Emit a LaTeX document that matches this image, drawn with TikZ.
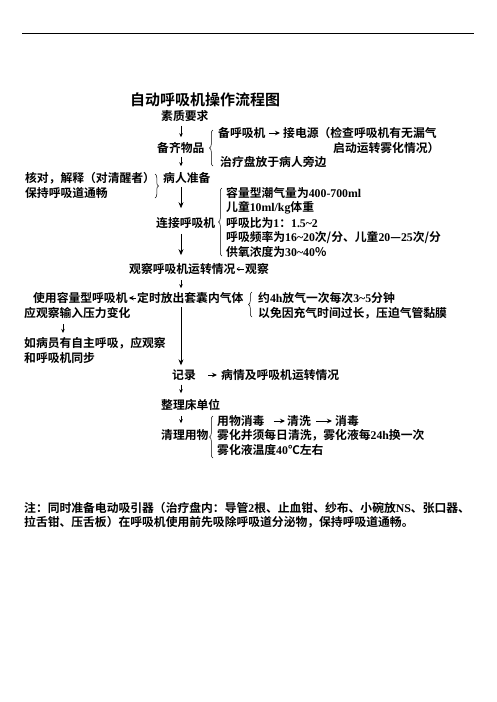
\documentclass[tikz,border=0pt]{standalone}
\usepackage{fontspec}
\usetikzlibrary{arrows.meta,decorations.pathreplacing,calc}
\newfontfamily\cjk{Noto Sans CJK SC Bold}
\newfontfamily\lat{Liberation Serif}[BoldFont={Liberation Serif Bold}]
\newcommand{\la}[1]{{\lat\bfseries #1}}
\begin{document}
\begin{tikzpicture}[x=1pt,y=-1pt,
  txt/.style={anchor=west,inner sep=0pt,font=\cjk\fontsize{11.8}{14}\selectfont},
  arr/.style={-{Stealth[length=6pt,width=5pt]},line width=0.8pt},
  sarr/.style={-{Stealth[length=4pt,width=3.5pt]},line width=0.6pt},
  harr/.style={-{Stealth[length=5pt,width=4.5pt]},line width=0.9pt},
  tarr/.style={-{To[length=3pt,width=4pt]},line width=0.5pt},
  brc/.style={decorate,decoration={brace,amplitude=3.5pt},line width=0.5pt}]
\useasboundingbox (0,0) rectangle (496,702);
\draw[line width=0.9pt] (22,33) -- (474,33);
\coordinate (ax) at (181,0);
\coordinate (bx) at (63,0);
% title
\node[txt,font=\cjk\fontsize{15}{17}\selectfont] (title) at (130,100) {自动呼吸机操作流程图};
% main column
\node[txt] (s1) at (161,116) {素质要求};
\node[txt] (s2) at (157,148) {备齐物品};
\node[txt] (s3) at (163,178) {病人准备};
\node[txt] (s4) at (156,223) {连接呼吸机};
\node[txt] (s5) at (129,269) {观察呼吸机运转情况};
\node[txt] (s5b) at (245,269) {观察};
\node[txt] (s6) at (137,298) {定时放出套囊内气体};
\node[txt] (s6b) at (33,298) {使用容量型呼吸机};
\node[txt] (s7) at (172,375) {记录};
\node[txt] (s7b) at (221,375) {病情及呼吸机运转情况};
\node[txt] (s8) at (161,405) {整理床单位};
\node[txt] (s9) at (161,435) {清理用物};
% branch 1
\node[txt] (b1a) at (218,133) {备呼吸机};
\node[txt] (b1b) at (283,133) {接电源（检查呼吸机有无漏气};
\node[txt] (b1c) at (333,148) {启动运转雾化情况）};
\node[txt] (b1d) at (220,162) {治疗盘放于病人旁边};
% left of s3
\node[txt] (l1) at (25,178) {核对，解释（对清醒者）};
\node[txt] (l2) at (25,193) {保持呼吸道通畅};
% parameters
\node[txt] (p1) at (226,193) {容量型潮气量为\la{400-700ml}};
\node[txt] (p2) at (226,208) {儿童\la{10ml/kg}体重};
\node[txt] (p3) at (226,223) {呼吸比为\la{1}：\la{1.5\textasciitilde2}};
\node[txt] (p4) at (226,237) {呼吸频率为\la{16\textasciitilde20}次/分、儿童\la{20}—\la{25}次/分};
\node[txt] (p5) at (226,252) {供氧浓度为\la{30\textasciitilde40}％};
% cuff
\node[txt] (c1) at (258,298) {约\la{4h}放气一次每次\la{3\textasciitilde5}分钟};
\node[txt] (c2) at (258,313) {以免因充气时间过长，压迫气管黏膜};
\node[txt] (u1) at (24,313) {应观察输入压力变化};
\node[txt] (u2) at (24,343) {如病员有自主呼吸，应观察};
\node[txt] (u3) at (24,358) {和呼吸机同步};
% cleaning
\node[txt] (q1a) at (217,421) {用物消毒};
\node[txt] (q1b) at (287,421) {清洗};
\node[txt] (q1c) at (335,421) {消毒};
\node[txt] (q2) at (217,435) {雾化并须每日清洗，雾化液每\la{24h}换一次};
\node[txt] (q3) at (217,450) {雾化液温度\la{40}℃左右};
% note
\node[txt] (n1) at (24,508) {注：同时准备电动吸引器（治疗盘内：导管\la{2}根、止血钳、纱布、小碗放\la{NS}、张口器、};
\node[txt] (n2) at (24,522) {拉舌钳、压舌板）在呼吸机使用前先吸除呼吸道分泌物，保持呼吸道通畅。};
% vertical arrows
\draw[sarr] (s1.south -| ax) ++(0,4) -- ($(s2.north -| ax)+(0,-5)$);
\draw[sarr] (s2.south -| ax) ++(0,3) -- ($(s3.north -| ax)+(0,-6)$);
\draw[arr] (s3.south -| ax) ++(0,3) -- ($(s4.north -| ax)+(0,-9)$);
\draw[arr] (s4.south -| ax) ++(0,5) -- ($(s5.north -| ax)+(0,-8)$);
\draw[sarr] (s5.south -| ax) ++(0,5) -- ($(s6.north -| ax)+(0,-4)$);
\draw[arr] (s6.south -| ax) ++(0,3) -- ($(s7.north -| ax)+(0,-4)$);
\draw[sarr] (s7.south -| ax) ++(0,4) -- ($(s8.north -| ax)+(0,-6)$);
\draw[sarr] (s8.south -| ax) ++(0,5) -- ($(s9.north -| ax)+(0,-6)$);
\draw[sarr] (u1.south -| bx) ++(0,5) -- ($(u2.north -| bx)+(0,-4)$);
% horizontal arrows
\draw[harr] (b1a.east) ++(3,0) -- ($(b1b.west)+(-3,0)$);
\draw[tarr] (s5b.west) ++(-1,0) -- ($(s5.east)+(1,0)$);
\draw[harr] (s6.west) ++(-1,0) -- ($(s6b.east)+(1,0)$);
\draw[harr] (s7.east) ++(12,0) -- ($(s7b.west)+(-4,0)$);
\draw[harr] (q1a.east) ++(9,0) -- ($(q1b.west)+(-2,0)$);
\draw[harr] (q1b.east) ++(5,0) -- ($(q1c.west)+(-3,0)$);
% braces
\draw[brc] (213,166) -- (213,130);
\draw[brc] (155,174) -- (155,198);
\draw[brc] (222,256) -- (222,188);
\draw[brc] (252,317) -- (252,292);
\draw[brc] (213,458) -- (213,416);
\end{tikzpicture}
\end{document}
